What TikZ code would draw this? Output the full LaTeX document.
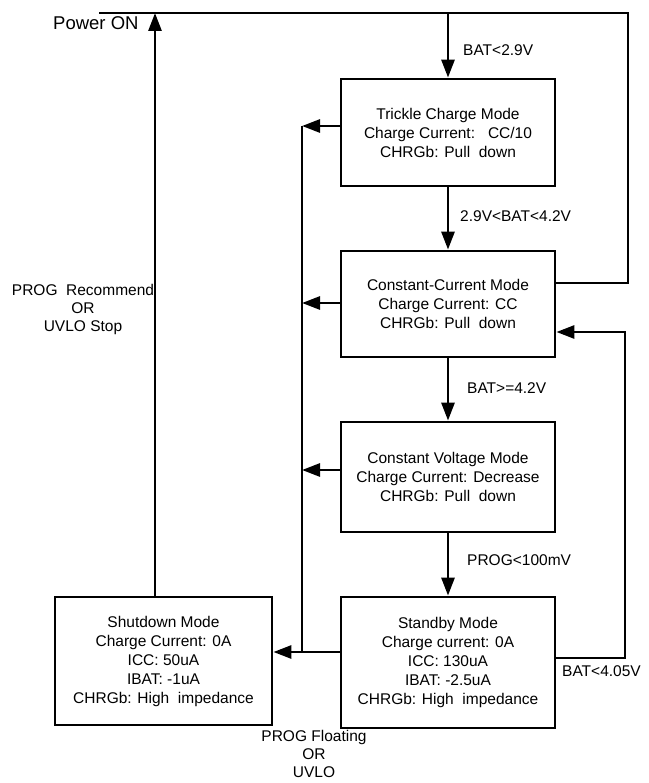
\documentclass[tikz,border=0pt]{standalone}
\usepackage{fontspec}
\setmainfont{Liberation Sans}
\usetikzlibrary{arrows.meta}
\begin{document}
\begin{tikzpicture}[x=1pt,y=-1pt,
 wire/.style={line width=2.8pt},
 arr/.style={wire,-{Triangle[length=18pt,width=13pt]}},
 modebox/.style={draw,line width=2.8pt,minimum width=214pt,inner sep=0pt,align=center,font=\fontsize{15.5}{19}\selectfont},
 lbl/.style={font=\fontsize{15.5}{19}\selectfont,inner sep=0pt,anchor=west},
 clbl/.style={font=\fontsize{15.5}{18}\selectfont,inner sep=0pt,align=center},
]
\useasboundingbox (0,0) rectangle (648,783);

% mode boxes
\node[modebox,minimum height=107pt] (trickle) at (448,132.5)
  {Trickle Charge Mode\\Charge Current:~~~CC/10\\CHRGb: Pull~ down};
\node[modebox,minimum height=106pt] (cc) at (448,304)
  {Constant-Current Mode\\Charge Current: CC\\CHRGb: Pull~ down};
\node[modebox,minimum height=110pt] (cv) at (448,477)
  {Constant Voltage Mode\\Charge Current: Decrease\\CHRGb: Pull~ down};
\node[modebox,minimum height=131pt] (standby) at (448,662.5)
  {Standby Mode\\Charge current: 0A\\ICC: 130uA\\IBAT: -2.5uA\\CHRGb: High~ impedance};
\node[modebox,minimum width=217pt,minimum height=128pt] (shutdown) at (163.5,661)
  {Shutdown Mode\\Charge Current: 0A\\ICC: 50uA\\IBAT: -1uA\\CHRGb: High~ impedance};

% helper coordinates
\coordinate (topL) at (99,13);
\coordinate (topR) at (628,13);
\coordinate (topA) at (448,13);
\coordinate (ccR) at (556,283);
\coordinate (pw) at (155,13);
\coordinate (bT) at (302,126);
\coordinate (bC) at (302,303);
\coordinate (bV) at (302,470);
\coordinate (bB) at (302,652);
\coordinate (rB) at (625,658);
\coordinate (rT) at (625,332);

% top line and return to constant-current box
\draw[wire] (topL) -- (topR) |- (cc.east |- ccR);
\draw[arr] (topA) -- (trickle.north);

% main chain
\draw[arr] (trickle.south) -- (cc.north);
\draw[arr] (cc.south) -- (cv.north);
\draw[arr] (cv.south) -- (standby.north);

% left bus to shutdown
\draw[arr] (trickle.west |- bT) -- (bT);
\draw[arr] (cc.west |- bC) -- (bC);
\draw[arr] (cv.west |- bV) -- (bV);
\draw[wire] (bT) -- (bB);
\draw[arr] (standby.west |- bB) -- (shutdown.east |- bB);

% shutdown to power on
\draw[arr] (shutdown.north -| pw) -- (pw);

% recharge loop
\draw[arr] (standby.east |- rB) -- (rB) -- (rT) -- (cc.east |- rT);

% labels
\node[lbl] (l1) at (463,50) {BAT<2.9V};
\node[lbl] (l2) at (460,216) {2.9V<BAT<4.2V};
\node[lbl] (l3) at (467,388) {BAT>=4.2V};
\node[lbl] (l4) at (467,560) {PROG<100mV};
\node[lbl] (l5) at (562,671) {BAT<4.05V};
\node[clbl] (l6) at (314,754) {PROG Floating\\OR\\UVLO};
\node[clbl] (l7) at (83,309) {PROG~ Recommend\\OR\\UVLO Stop};
\node[lbl,font=\fontsize{18.5}{22}\selectfont] (pwr) at (53,23) {Power ON};
\end{tikzpicture}
\end{document}
